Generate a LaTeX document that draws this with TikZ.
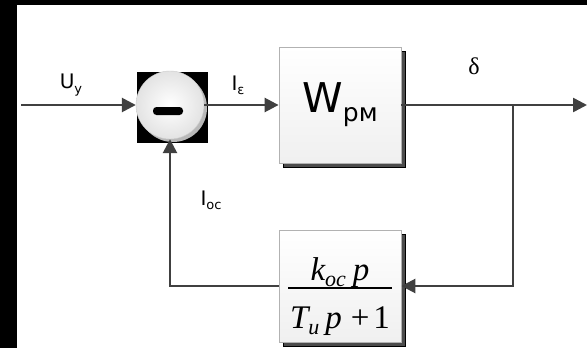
\documentclass[tikz,border=0pt]{standalone}
\usepackage{fontspec}
\setmainfont{Liberation Serif}
\setsansfont{DejaVu Sans}
\usetikzlibrary{arrows.meta,shadows}
\definecolor{wiregray}{HTML}{404040}
\newcommand\lowtext[2]{\raisebox{-0.4ex}{\fontsize{#1}{#1}\selectfont #2}}

\begin{document}
\begin{tikzpicture}[x=1pt,y=-1pt,
    wire/.style={draw=wiregray, line width=2.6pt},
    sig/.style={wire, -{Triangle[length=14pt,width=14pt]}},
    block/.style={rectangle, draw=gray!60, line width=0.8pt, top color=white, bottom color=gray!12,
        minimum width=122pt, inner sep=0pt,
        general shadow={fill=gray!60!black, draw=black, line width=0.8pt, shadow xshift=4pt, shadow yshift=-4pt}},
    lbl/.style={font=\sffamily\fontsize{20}{22}\selectfont, inner sep=0pt}]
\useasboundingbox (0,0) rectangle (587,348);
\fill[white] (0,0) rectangle (587,348);
\fill[black] (0,0) rectangle (17,348);
\fill[black] (0,0) rectangle (587,5);

\coordinate (in) at (21,105);
\coordinate (out) at (587,105);
\coordinate (branch) at (513,105);

\node[fill=black, minimum size=71pt] (sumbg) at (172.5,107.5) {};
\node[circle, minimum size=68pt, inner color=white, outer color=gray!22, draw=gray!40,
    general shadow={fill=gray!55, shadow xshift=3pt, shadow yshift=-3pt}] (sum) at (170,105) {};
\node[fill=black, rounded corners=3.5pt, minimum width=30pt, minimum height=8pt, inner sep=0pt] (minus) at (168,111) {};

\node[block, minimum height=116pt] (wpm) at (340,105)
    {\sffamily\fontsize{41}{44}\selectfont W\lowtext{25}{рм}};
\node[block, minimum height=112pt] (fb) at (340,286)
    {\fontsize{33}{36}\selectfont\renewcommand\arraystretch{0}\setlength\arrayrulewidth{1.4pt}%
     \begin{tabular}{@{}c@{}}
     \rule[-7pt]{0pt}{51pt}\itshape k\lowtext{22}{oc}\hspace{7pt}p\\ \hline
     \rule[-7pt]{0pt}{47pt}\hspace{2pt}\itshape T\lowtext{22}{u}\hspace{6pt}p\hspace{9pt}\upshape+\hspace{4pt}1\hspace{2pt}
     \end{tabular}};

\node[lbl] (uy) at (71,85) {U\lowtext{13}{у}};
\node[lbl] (ie) at (238,85) {I\lowtext{13}{ε}};
\node[lbl] (ioc) at (211,200) {I\lowtext{13}{ос}};
\node[font=\fontsize{24}{26}\selectfont, inner sep=0pt] (delta) at (474,66) {δ};

\draw[sig] (in) -- (sum.west);
\draw[sig] (sum.east) -- (wpm.west);
\draw[sig] (wpm.east) -- (out);
\draw[sig] (branch) |- (fb.east);
\draw[sig] (fb.west) -| (sum.south);
\end{tikzpicture}
\end{document}
